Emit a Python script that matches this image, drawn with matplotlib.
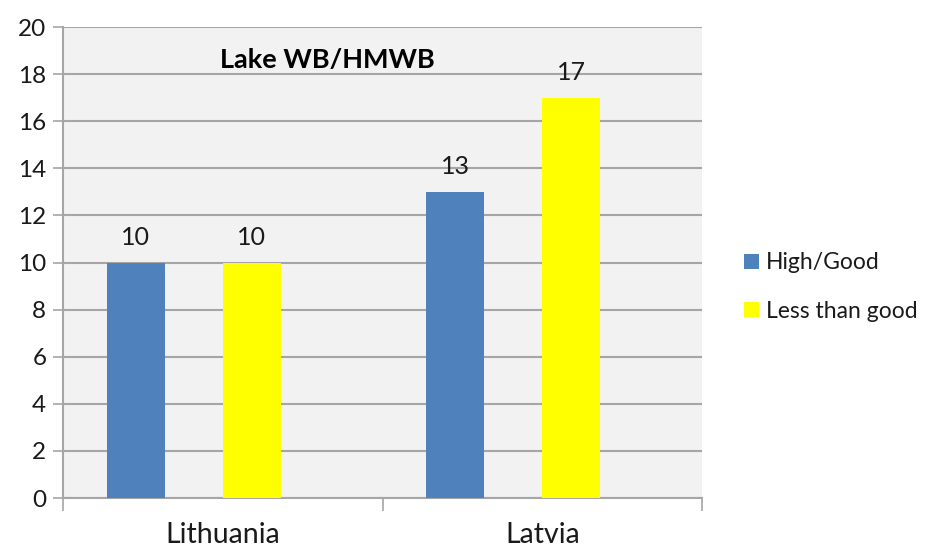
import numpy as np
import matplotlib.pyplot as plt
from matplotlib.patches import Patch

# chart data
countries = ['Lithuania', 'Latvia']
series_names = ['High/Good', 'Less than good']
high_good = [10, 13]
less_than_good = [10, 17]
y_ticks = [0, 2, 4, 6, 8, 10, 12, 14, 16, 18, 20]

colors = ['#4f81bd', '#ffff00']
grid_col = '#a6a6a6'

plt.rcParams['font.family'] = ['Lato', 'DejaVu Sans']

fig = plt.figure(figsize=(9.29, 5.5), dpi=100)
ax = fig.add_axes([0.0678, 0.0945, 0.6879, 0.8564])
ax.set_facecolor('#f2f2f2')

x = np.arange(len(countries))
width = 0.181
offsets = [-0.272, 0.091]

for vals, off, col in zip([high_good, less_than_good], offsets, colors):
    bars = ax.bar(x + off, vals, width, color=col, zorder=3)
    for b, v in zip(bars, vals):
        ax.annotate(str(v), (b.get_x() + b.get_width() / 2, v),
                    xytext=(0, 10), textcoords='offset points',
                    ha='center', va='bottom', fontsize=18, color='#1a1a1a')

ax.set_xlim(-0.5, 1.5)
ax.set_ylim(0, 20)
ax.set_yticks(y_ticks)
ax.set_yticklabels([str(t) for t in y_ticks], fontsize=17.5, color='#1a1a1a')
ax.yaxis.grid(True, color=grid_col, linewidth=1.5, zorder=0)
ax.set_axisbelow(True)

# category boundary ticks on x axis, labels in the middle
ax.set_xticks([-0.5, 0.5, 1.5])
ax.set_xticklabels([])
ax.set_xticks(x, minor=True)
ax.set_xticklabels(countries, minor=True, fontsize=20.5, color='#1a1a1a')
ax.tick_params(axis='x', which='minor', length=0, pad=17)
ax.tick_params(axis='x', which='major', length=9, color=grid_col, width=1.2)
ax.tick_params(axis='y', length=7, color=grid_col, width=1.2, pad=5)

for s in ['top', 'right']:
    ax.spines[s].set_visible(False)
for s in ['left', 'bottom']:
    ax.spines[s].set_color(grid_col)
    ax.spines[s].set_linewidth(1.5)

ax.text(0.413, 0.93, 'Lake WB/HMWB', transform=ax.transAxes, ha='center', va='center',
        fontsize=19.5, fontweight='bold', color='#000000')

handles = [Patch(facecolor=c, edgecolor='none') for c in colors]
fig.legend(handles, series_names, loc='center left', bbox_to_anchor=(0.801, 0.478),
           frameon=False, fontsize=16.5, handlelength=0.65, handleheight=0.65,
           handletextpad=0.3, labelspacing=1.2, labelcolor='#1a1a1a',
           borderpad=0, borderaxespad=0)

fig.savefig('out.png', dpi=100)
